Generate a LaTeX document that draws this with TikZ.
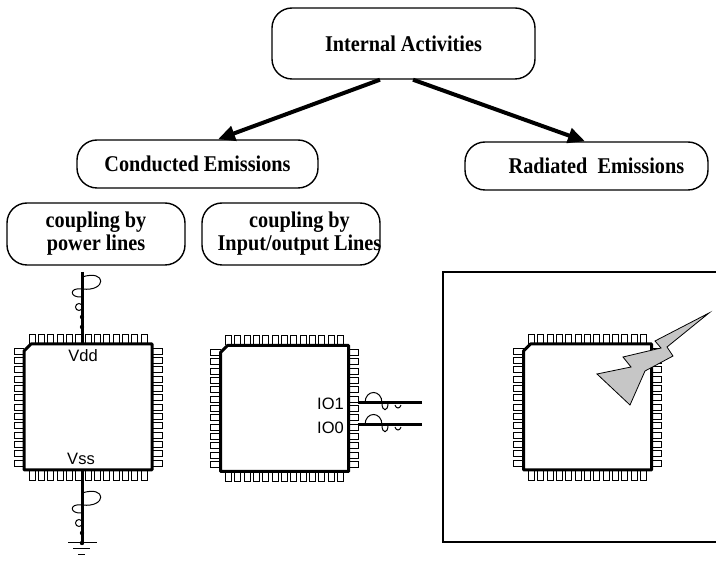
\documentclass[tikz,border=0pt]{standalone}
\usepackage{fontspec}
\setmainfont{Liberation Serif}
\newfontfamily\boxfont[FakeStretch=0.9]{Liberation Serif}
\newfontfamily\pinfont{Liberation Sans}
\usetikzlibrary{arrows.meta,calc}

\tikzset{
  % quad flat package: 13 pins per side around a square body
  qfp/.pic={
    \foreach \k in {0,...,12}{
      \pgfmathsetmacro\p{-56+9.333*\k}
      \draw[pin] (\p-3,-63) -- (\p-3,-73) -- (\p+3,-73) -- (\p+3,-63);
      \draw[pin] (\p-3,63) -- (\p-3,73) -- (\p+3,73) -- (\p+3,63);
      \draw[pin] (-64,\p-3) -- (-74,\p-3) -- (-74,\p+3) -- (-64,\p+3);
      \draw[pin] (64,\p-3) -- (74,\p-3) -- (74,\p+3) -- (64,\p+3);
    }
    \node[minimum width=128pt, minimum height=126pt, inner sep=0pt, outer sep=0pt] (-body) at (0,0) {};
    \draw[chipline] (-body.north east) -- (-body.south east) -- (-body.south west)
      -- ([yshift=-7pt]-body.north west) -- ([xshift=7pt]-body.north west) -- cycle;
  },
  % coupling loop wound round a vertical wire
  helixv/.pic={
    \draw[helix] (0,0) .. controls (25,-8) and (25,15) .. (0,12)
      .. controls (-13,10) and (-13,21) .. (0,20);
    \draw[helix] (-3,30) circle[radius=3.5];
    \fill (0,40) circle[radius=2.2];
    \fill (0,50) circle[radius=2.2];
  },
  % coupling loop wound round a horizontal wire
  helixh/.pic={
    \draw[helix] (0,0) .. controls (0,-14) and (17,-14) .. (17,0)
      .. controls (17,9) and (23,9) .. (23,0);
    \draw[helix] (30,2) .. controls (31,6) and (35,6) .. (36,2);
  },
}

\begin{document}
\begin{tikzpicture}[x=1pt,y=-1pt,
  box/.style={draw, line width=1.4pt, rounded corners=20pt, inner sep=0pt,
    font=\boxfont\fontsize{22.5pt}{23pt}\selectfont\bfseries, align=center},
  boxtext/.style={inner sep=0pt, font=\boxfont\fontsize{22.5pt}{23pt}\selectfont\bfseries, align=center},
  flow/.style={line width=4pt, -{Triangle[length=17pt,width=15pt]}},
  pin/.style={line width=0.9pt},
  chipline/.style={line width=3pt, line join=round},
  wire/.style={line width=3pt},
  helix/.style={line width=1pt},
  pinlabel/.style={font=\pinfont\fontsize{16.5pt}{18pt}\selectfont, inner sep=0pt},
]
\useasboundingbox (0,0) rectangle (716,561);

% --- classification tree ---
\node[box, minimum width=263pt, minimum height=71pt] (ia) at (403.5,43.5) {Internal Activities};
\node[box, minimum width=241pt, minimum height=48pt] (ce) at (197.5,164) {Conducted Emissions};
\node[box, minimum width=243pt, minimum height=48pt] (re) at (586.5,166) {};
\node[boxtext] (retext) at (596.5,166) {Radiated\ \ Emissions};
\node[box, minimum width=178pt, minimum height=62pt] (cp) at (96,234) {coupling by\\power lines};
\node[box, minimum width=178pt, minimum height=62pt] (cio) at (291,234) {};
\node[boxtext] (ciotext) at (299.5,234) {coupling by\\Input/output Lines};

\draw[flow] ([xshift=-23.5pt]ia.south) -- ([xshift=20.5pt]ce.north);
\draw[flow] ([xshift=9.5pt]ia.south) -- ([xshift=-1.5pt]re.north);

% --- chips ---
\pic (pw) at (88,407) {qfp};
\pic (io) at (284.5,408.5) {qfp};
\draw[line width=1.2pt] (720,272) -- (443,272) -- (443,542) -- (720,542);
\pic (rd) at (587.5,407) {qfp};

% power supply lines
\coordinate (vddend) at (82,272);
\coordinate (gnd) at (82,543);
\draw[wire] (vddend) -- ([xshift=-6pt]pw-body.north);
\draw[wire] ([xshift=-6pt]pw-body.south) -- (gnd);
\draw[line width=1pt] ($(gnd)+(-14,0)$) -- ($(gnd)+(15,0)$);
\draw[line width=1pt] ($(gnd)+(-9,6)$) -- ($(gnd)+(8,6)$);
\draw[line width=1pt] ($(gnd)+(-4,12)$) -- ($(gnd)+(3,12)$);
\pic at (82,277) {helixv};
\pic at (82,493) {helixv};
\node[pinlabel] (vdd) at (83,356) {Vdd};
\node[pinlabel] (vss) at (81,459) {Vss};

% input/output lines
\coordinate (io1end) at (422,403);
\coordinate (io0end) at (422,425);
\draw[wire, shorten >=9pt] (io1end) -- (io1end -| io-body.east);
\draw[wire, shorten >=9pt] (io0end) -- (io0end -| io-body.east);
\pic at (365,403) {helixh};
\pic at (365,425) {helixh};
\node[pinlabel, anchor=east] (io1) at (344,404) {IO1};
\node[pinlabel, anchor=east] (io0) at (344,428) {IO0};

% radiated emission flash
\draw[fill=gray!45, line width=0.8pt, line join=miter]
  (709,313) -- (655,341) -- (661,348) -- (623,357) -- (631,367) -- (597,374)
  -- (630,405) -- (645,371) -- (673,356) -- (667,347) -- cycle;
\end{tikzpicture}
\end{document}
